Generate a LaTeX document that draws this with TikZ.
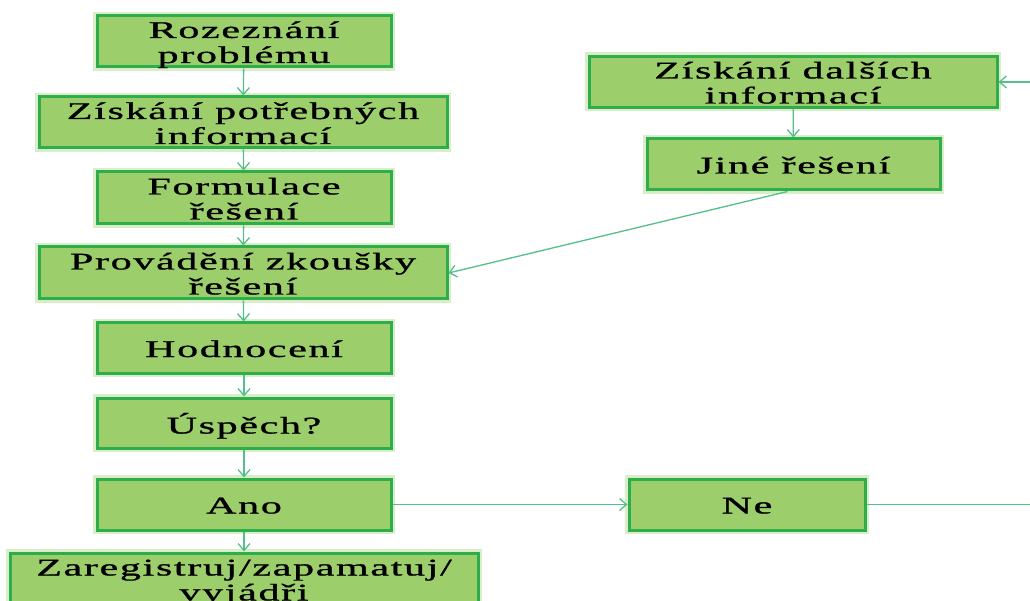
\documentclass[tikz,border=0pt]{standalone}
\usepackage{fontspec}
\usepackage{graphicx}
\setmainfont{Liberation Serif}[LetterSpace=4, FakeBold=0.8]
\usetikzlibrary{arrows.meta}
\definecolor{boxfill}{HTML}{9DCE6C}
\definecolor{boxline}{HTML}{2EAE4A}
\definecolor{glow}{HTML}{D8EDC8}
\definecolor{conn}{HTML}{55BF8A}
\newcommand\sx[1]{\raisebox{-4pt}[\height][\depth]{\scalebox{1.75}[1]{\begin{tabular}{@{}c@{}}#1\end{tabular}}}}
\tikzset{
  box/.style={rectangle, fill=boxfill, draw=boxline, line width=3pt, inner sep=0pt,
    align=center, font=\fontsize{24}{25}\selectfont,
    preaction={draw=glow, line width=8pt}},
  conn/.style={draw=conn, line width=1.3pt, -{Straight Barb[length=7pt,width=12pt,line width=1.3pt]}},
  connplain/.style={draw=conn, line width=1.3pt}
}
\begin{document}
\begin{tikzpicture}[x=1pt,y=-1pt]
\useasboundingbox (0,0) rectangle (1030,601);
\begin{scope}
\clip (0,0) rectangle (1030,601);
\node[box, minimum width=294pt, minimum height=51pt] (b1) at (244,41.5) {\sx{Rozeznání\\problému}};
\node[box, minimum width=408pt, minimum height=51pt] (b2) at (243,122.5) {\sx{Získání potřebných\\informací}};
\node[box, minimum width=294pt, minimum height=52pt] (b3) at (244,198) {\sx{Formulace\\řešení}};
\node[box, minimum width=408pt, minimum height=52pt] (b4) at (243,273) {\sx{Provádění zkoušky\\řešení}};
\node[box, minimum width=294pt, minimum height=50pt] (b5) at (244,348) {\sx{Hodnocení}};
\node[box, minimum width=294pt, minimum height=50pt] (b6) at (244,423) {\sx{Úspěch?}};
\node[box, minimum width=294pt, minimum height=51pt] (b7) at (244,504.5) {\sx{Ano}};
\node[box, minimum width=468pt, minimum height=52pt] (b8) at (244,579) {\sx{Zaregistruj/zapamatuj/\\vyjádři}};
\node[box, minimum width=408pt, minimum height=51pt] (d1) at (793,82) {\sx{Získání dalších\\informací}};
\node[box, minimum width=293pt, minimum height=51pt] (d2) at (793.5,164.5) {\sx{Jiné řešení}};
\node[box, minimum width=236pt, minimum height=51pt] (ne) at (747,504.5) {\sx{Ne}};
\coordinate (rin) at (1032,82);
\coordinate (rout) at (1032,504.5);
\draw[conn] (b1) -- (b2);
\draw[conn] (b2) -- (b3);
\draw[conn] (b3) -- (b4);
\draw[conn] (b4) -- (b5);
\draw[conn] (b5) -- (b6);
\draw[conn] (b6) -- (b7);
\draw[conn] (b7) -- (b8);
\draw[conn] (b7) -- (ne);
\draw[connplain] (ne) -- (rout);
\draw[conn] (rin) -- (d1);
\draw[conn] (d1) -- (d2);
\draw[conn] ([xshift=-6pt]d2.south) -- (b4.east);
\end{scope}
\end{tikzpicture}
\end{document}
